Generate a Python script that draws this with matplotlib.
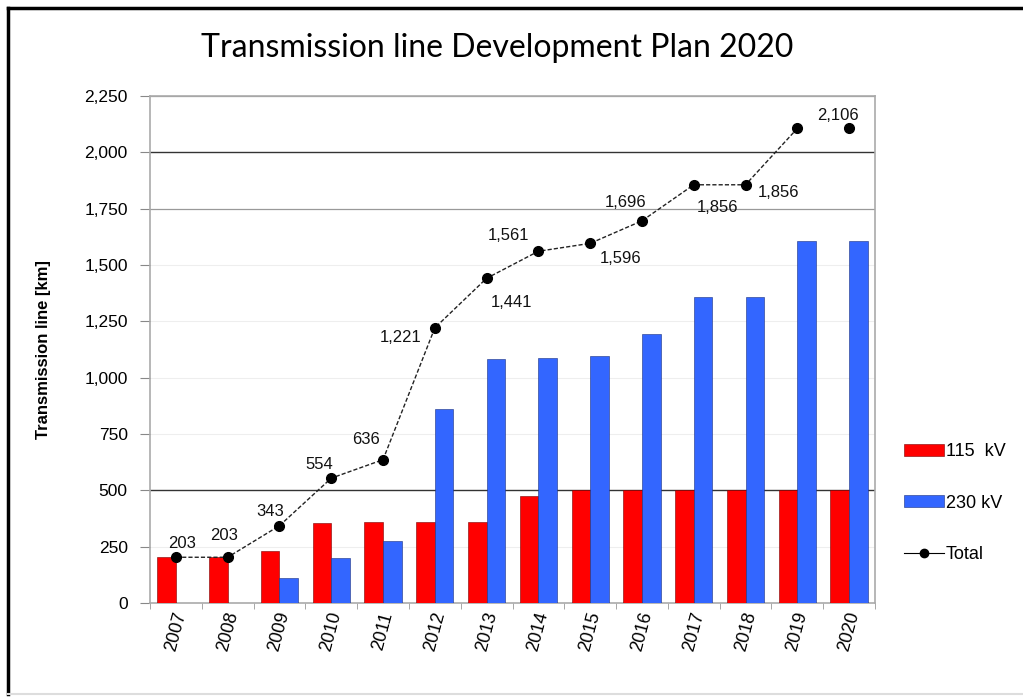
import matplotlib
matplotlib.use("Agg")
import matplotlib.pyplot as plt
from matplotlib.lines import Line2D
import numpy as np

plt.rcParams['font.family'] = ['Liberation Sans', 'DejaVu Sans']

years = ['2007', '2008', '2009', '2010', '2011', '2012', '2013',
         '2014', '2015', '2016', '2017', '2018', '2019', '2020']
kv115 = [203, 203, 232, 354, 360, 360, 360, 475, 500, 500, 500, 500, 500, 500]
kv230 = [0, 0, 111, 200, 276, 861, 1081, 1086, 1096, 1196, 1356, 1356, 1606, 1606]
total = [203, 203, 343, 554, 636, 1221, 1441, 1561, 1596, 1696, 1856, 1856, 2106, 2106]
total_labels = ['203', '203', '343', '554', '636', '1,221', '1,441', '1,561',
                '1,596', '1,696', '1,856', '1,856', '', '2,106']
# label offsets from each point, pixels (dx, dy up)
label_off = [(6, 14), (-4, 22), (-9, 14), (-12, 14), (-17, 20), (-34, -10), (25, -24),
             (-30, 16), (30, -15), (-16, 18), (24, -23), (33, -8), (0, 0), (-11, 13)]
yticks = [0, 250, 500, 750, 1000, 1250, 1500, 1750, 2000, 2250]

fig = plt.figure(figsize=(10.23, 6.98), dpi=100)
ax = fig.add_axes([150 / 1023, 1 - 603 / 698, 725 / 1023, 507 / 698])

x = np.arange(len(years))
w = 0.36
b1 = ax.bar(x - w / 2, kv115, w, color='#ff0000', edgecolor='#7a0000', linewidth=0.4,
            label='115  kV', zorder=3)
b2 = ax.bar(x + w / 2, kv230, w, color='#3366ff', edgecolor='#1a2f80', linewidth=0.4,
            label='230 kV', zorder=3)

# line joins 2007-2019, 2020 drawn as a lone point
ax.plot(x[:-1], total[:-1], color='#222222', linestyle=(0, (3, 1.5)), linewidth=1,
        zorder=4)
ax.plot(x, total, linestyle='none', marker='o', markersize=7, color='black', zorder=5)
h_total, = ax.plot([], [], color='black', linewidth=0.8, marker='o', markersize=6,
                   label='Total')

for xi, yi, lab, (dx, dy) in zip(x, total, total_labels, label_off):
    if lab:
        ax.annotate(lab, (xi, yi), xytext=(dx, dy), textcoords='offset pixels',
                    ha='center', va='center', fontsize=12, color='#111111', zorder=6)

ax.set_xlim(-0.5, len(years) - 0.5)
ax.set_ylim(0, 2250)
ax.set_yticks(yticks)
ax.set_yticklabels([f'{v:,}' for v in yticks], fontsize=12.5)
for v in yticks[1:]:
    if v in (500, 2000):
        c, lw = '#333333', 1.0
    elif v in (1750, 2250):
        c, lw = '#999999', 0.9
    else:
        c, lw = '#eeeeee', 0.8
    ax.axhline(v, color=c, linewidth=lw, zorder=1)

ax.set_xticks(x)
ax.set_xticklabels(years, rotation=75, fontsize=13, ha='center')
ax.set_xticks(np.arange(-0.5, len(years), 1), minor=True)
ax.tick_params(axis='x', which='major', length=0, pad=5)
ax.tick_params(axis='x', which='minor', length=4, color='#999999')
ax.tick_params(axis='y', length=7, color='#888888', pad=9)

for s in ax.spines.values():
    s.set_color('#aaaaaa')
    s.set_linewidth(1.2)

ax.set_ylabel('Transmission line [km]', fontsize=12, fontweight='bold', labelpad=24)

ax.set_title('Transmission line Development Plan 2020', family=['Lato', 'DejaVu Sans'],
             fontsize=23, pad=28, x=0.479)

ax.legend(handles=[b1, b2, h_total], loc='center left',
          bbox_to_anchor=(888 / 1023, 1 - 503 / 698),
          bbox_transform=fig.transFigure, frameon=False,
          handlelength=2.2, handleheight=0.6, labelspacing=1.9, handletextpad=0.1,
          prop={'size': 13})

# figure frame
fig.add_artist(Line2D([8 / 1023, 8 / 1023], [1 - 8 / 698, 1 - 694 / 698],
                      transform=fig.transFigure, color='black', linewidth=2.5))
fig.add_artist(Line2D([8 / 1023, 1], [1 - 8 / 698, 1 - 8 / 698],
                      transform=fig.transFigure, color='black', linewidth=2.5))
fig.add_artist(Line2D([8 / 1023, 1], [1 - 694 / 698, 1 - 694 / 698],
                      transform=fig.transFigure, color='#dddddd', linewidth=1.5))

fig.savefig('out.png', dpi=100)
